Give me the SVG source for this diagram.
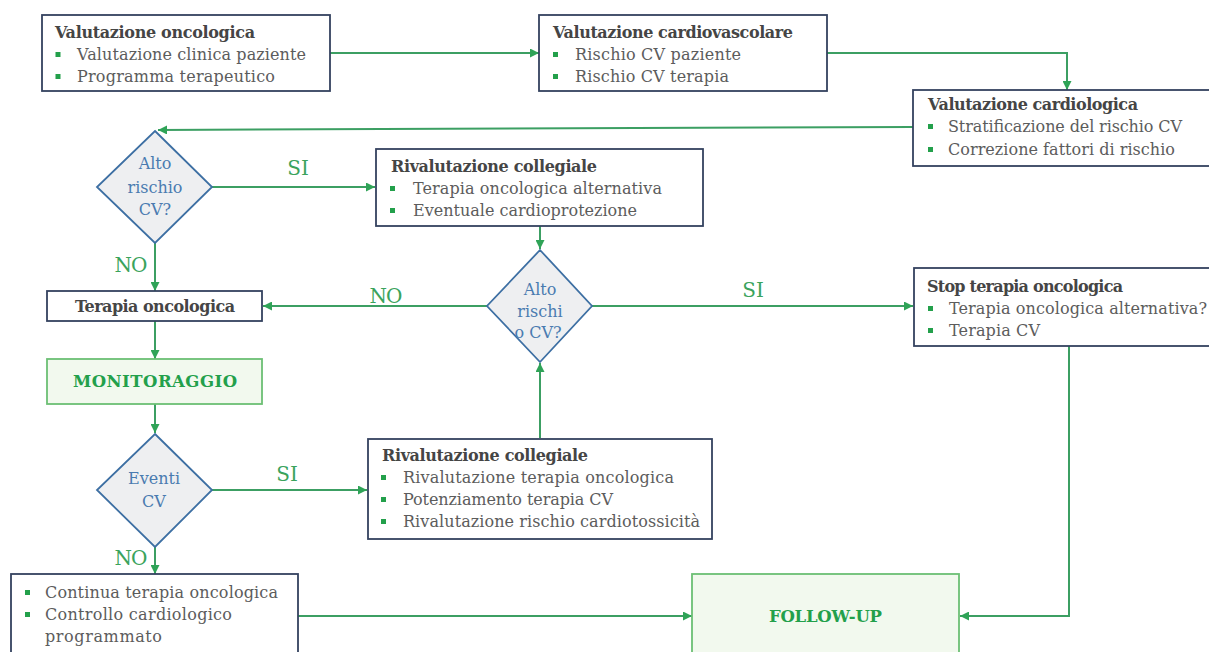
<svg xmlns="http://www.w3.org/2000/svg" width="1209" height="652" viewBox="0 0 1209 652">
  <style>
    .box { fill: #ffffff; stroke: #34425f; stroke-width: 1.8; }
    .gbox { fill: #f2f9ee; stroke: #6cbf74; stroke-width: 1.8; }
    .dia { fill: #eeeff1; stroke: #3d6fa3; stroke-width: 1.8; }
    .ttl { font-family: "DejaVu Serif", "Liberation Serif", serif; font-size: 16px; font-weight: bold; fill: #454545; }
    .itm { font-family: "DejaVu Serif", "Liberation Serif", serif; font-size: 16px; fill: #5c5c5c; }
    .gtx { font-family: "DejaVu Serif", "Liberation Serif", serif; font-size: 16.5px; font-weight: bold; fill: #23a04b; }
    .dtx { font-family: "DejaVu Serif", "Liberation Serif", serif; font-size: 16px; fill: #4a7bb0; text-anchor: middle; }
    .lbl { font-family: "DejaVu Serif", "Liberation Serif", serif; font-size: 20px; fill: #3aa35c; text-anchor: middle; }
    .blt { fill: #23a04b; }
    .con { fill: none; stroke: #3c9f63; stroke-width: 2; }
  </style>
  <defs>
    <marker id="arr" viewBox="0 0 10 10" refX="10" refY="5" markerWidth="9" markerHeight="9" markerUnits="userSpaceOnUse" orient="auto">
      <path d="M0,0 L10,5 L0,10 z" fill="#2fa357"/>
    </marker>
  </defs>

  <rect width="1209" height="652" fill="#ffffff"/>

  <!-- connectors -->
  <g id="connectors">
    <path class="con" d="M330,53 L539,53" marker-end="url(#arr)"/>
    <path class="con" d="M827,53 L1067,53 L1067,90" marker-end="url(#arr)"/>
    <path class="con" d="M913,127 L158,130" marker-end="url(#arr)"/>
    <path class="con" d="M212,187 L375,187" marker-end="url(#arr)"/>
    <path class="con" d="M155,243 L155,291" marker-end="url(#arr)"/>
    <path class="con" d="M540,226 L540,249" marker-end="url(#arr)"/>
    <path class="con" d="M592,306 L913,306" marker-end="url(#arr)"/>
    <path class="con" d="M487,306 L263,306" marker-end="url(#arr)"/>
    <path class="con" d="M540,438 L540,363" marker-end="url(#arr)"/>
    <path class="con" d="M155,321 L155,359" marker-end="url(#arr)"/>
    <path class="con" d="M155,404 L155,433" marker-end="url(#arr)"/>
    <path class="con" d="M212,490 L367,490" marker-end="url(#arr)"/>
    <path class="con" d="M155,547 L155,574" marker-end="url(#arr)"/>
    <path class="con" d="M298,616 L692,616" marker-end="url(#arr)"/>
    <path class="con" d="M1069,346 L1069,616 L960,616" marker-end="url(#arr)"/>
    <text class="lbl" x="298" y="175">SI</text>
    <text class="lbl" x="131" y="272" textLength="33">NO</text>
    <text class="lbl" x="386" y="303" textLength="33">NO</text>
    <text class="lbl" x="753" y="297">SI</text>
    <text class="lbl" x="287" y="481">SI</text>
    <text class="lbl" x="131" y="565" textLength="33">NO</text>
  </g>

  <!-- Valutazione oncologica -->
  <g id="val-oncologica">
    <rect class="box" x="42" y="15" width="288" height="76"/>
    <text class="ttl" x="55" y="38" textLength="200">Valutazione oncologica</text>
    <rect class="blt" x="55.5" y="52" width="5" height="5"/>
    <text class="itm" x="77" y="60" textLength="229">Valutazione clinica paziente</text>
    <rect class="blt" x="55.5" y="74" width="5" height="5"/>
    <text class="itm" x="77" y="82" textLength="198">Programma terapeutico</text>
  </g>

  <!-- Valutazione cardiovascolare -->
  <g id="val-cardiovascolare">
    <rect class="box" x="539" y="15" width="288" height="76"/>
    <text class="ttl" x="553" y="38" textLength="240">Valutazione cardiovascolare</text>
    <rect class="blt" x="553" y="52" width="5" height="5"/>
    <text class="itm" x="575" y="60" textLength="166">Rischio CV paziente</text>
    <rect class="blt" x="553" y="74" width="5" height="5"/>
    <text class="itm" x="575" y="82" textLength="154">Rischio CV terapia</text>
  </g>

  <!-- Valutazione cardiologica -->
  <g id="val-cardiologica">
    <rect class="box" x="913" y="90" width="300" height="76"/>
    <text class="ttl" x="928" y="110" textLength="210">Valutazione cardiologica</text>
    <rect class="blt" x="928" y="124" width="5" height="5"/>
    <text class="itm" x="948" y="132" textLength="234">Stratificazione del rischio CV</text>
    <rect class="blt" x="928" y="147" width="5" height="5"/>
    <text class="itm" x="948" y="155" textLength="227">Correzione fattori di rischio</text>
  </g>

  <!-- Decision: alto rischio CV -->
  <g id="dec-rischio-1">
    <polygon class="dia" points="155,131 212,187 155,243 97,187"/>
    <text class="dtx" x="155" y="169">Alto</text>
    <text class="dtx" x="155" y="193" textLength="55">rischio</text>
    <text class="dtx" x="155" y="215">CV?</text>
  </g>

  <!-- Rivalutazione collegiale (upper) -->
  <g id="rival-collegiale-1">
    <rect class="box" x="376" y="149" width="327" height="77"/>
    <text class="ttl" x="391" y="172" textLength="206">Rivalutazione collegiale</text>
    <rect class="blt" x="390" y="186" width="5" height="5"/>
    <text class="itm" x="413" y="194" textLength="249">Terapia oncologica alternativa</text>
    <rect class="blt" x="390" y="208" width="5" height="5"/>
    <text class="itm" x="413" y="216" textLength="224">Eventuale cardioprotezione</text>
  </g>

  <!-- Decision: alto rischio CV (after re-evaluation) -->
  <g id="dec-rischio-2">
    <polygon class="dia" points="540,250 592,306 540,362 487,306"/>
    <text class="dtx" x="540" y="295">Alto</text>
    <text class="dtx" x="540" y="317">rischi</text>
    <text class="dtx" x="538" y="338">o CV?</text>
  </g>

  <!-- Stop terapia oncologica -->
  <g id="stop-terapia">
    <rect class="box" x="914" y="268" width="300" height="78"/>
    <text class="ttl" x="927" y="292" textLength="196">Stop terapia oncologica</text>
    <rect class="blt" x="928" y="306" width="5" height="5"/>
    <text class="itm" x="949" y="314" textLength="258">Terapia oncologica alternativa?</text>
    <rect class="blt" x="928" y="328" width="5" height="5"/>
    <text class="itm" x="949" y="336" textLength="91">Terapia CV</text>
  </g>

  <!-- Terapia oncologica -->
  <g id="terapia-oncologica">
    <rect class="box" x="47" y="291" width="215" height="30"/>
    <text class="ttl" x="75" y="312" textLength="160">Terapia oncologica</text>
  </g>

  <!-- Monitoraggio -->
  <g id="monitoraggio">
    <rect class="gbox" x="47" y="359" width="215" height="45"/>
    <text class="gtx" x="73" y="387" textLength="164">MONITORAGGIO</text>
  </g>

  <!-- Decision: eventi CV -->
  <g id="dec-eventi">
    <polygon class="dia" points="155,434 212,490 155,547 97,490"/>
    <text class="dtx" x="154" y="484" textLength="52">Eventi</text>
    <text class="dtx" x="154" y="507">CV</text>
  </g>

  <!-- Rivalutazione collegiale (lower) -->
  <g id="rival-collegiale-2">
    <rect class="box" x="368" y="439" width="344" height="100"/>
    <text class="ttl" x="382" y="461" textLength="206">Rivalutazione collegiale</text>
    <rect class="blt" x="381" y="475" width="5" height="5"/>
    <text class="itm" x="403" y="483" textLength="271">Rivalutazione terapia oncologica</text>
    <rect class="blt" x="381" y="497" width="5" height="5"/>
    <text class="itm" x="403" y="505" textLength="210">Potenziamento terapia CV</text>
    <rect class="blt" x="381" y="519" width="5" height="5"/>
    <text class="itm" x="403" y="527" textLength="297">Rivalutazione rischio cardiotossicità</text>
  </g>

  <!-- Continua terapia -->
  <g id="continua-terapia">
    <rect class="box" x="11" y="574" width="287" height="90"/>
    <rect class="blt" x="25" y="590" width="5" height="5"/>
    <text class="itm" x="45" y="598" textLength="233">Continua terapia oncologica</text>
    <rect class="blt" x="25" y="612" width="5" height="5"/>
    <text class="itm" x="45" y="620" textLength="187">Controllo cardiologico</text>
    <text class="itm" x="45" y="642" textLength="117">programmato</text>
  </g>

  <!-- Follow-up -->
  <g id="follow-up">
    <rect class="gbox" x="692" y="574" width="267" height="90"/>
    <text class="gtx" x="769" y="622" textLength="113">FOLLOW-UP</text>
  </g>
</svg>
